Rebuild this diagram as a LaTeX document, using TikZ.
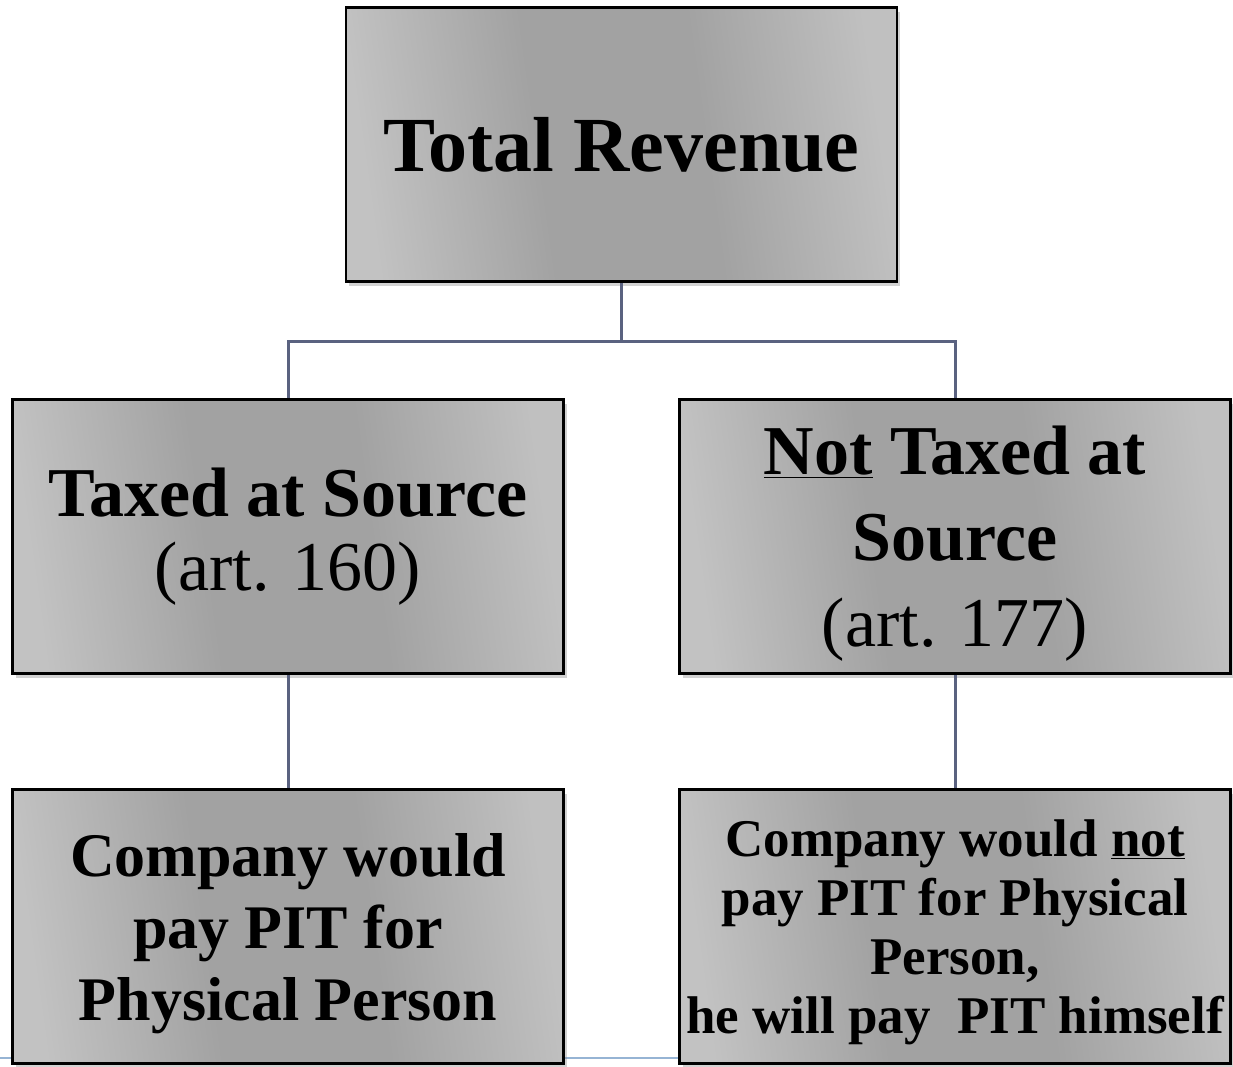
\documentclass[tikz,border=0pt]{standalone}
\usepackage{fontspec}
\setmainfont{Liberation Serif}
\usetikzlibrary{shadows,calc}
\definecolor{conncol}{RGB}{90,98,128}
\definecolor{footcol}{RGB}{150,180,212}
\definecolor{glight}{RGB}{194,194,194}
\definecolor{gdark}{RGB}{162,162,162}
\definecolor{gright}{RGB}{192,192,192}
\pgfdeclarehorizontalshading{boxshade}{100bp}{color(0bp)=(glight); color(25bp)=(glight); color(42bp)=(gdark); color(58bp)=(gdark); color(75bp)=(gright); color(100bp)=(gright)}
\tikzset{
  box/.style={draw=black, line width=2.5pt, rectangle, inner sep=0pt,
    shading=boxshade, shading angle=8,
    drop shadow={opacity=0.35, shadow xshift=3pt, shadow yshift=-4pt},
    minimum width=551pt, minimum height=274pt, align=center, text=black},
  conn/.style={draw=conncol, line width=3pt},
}
\begin{document}
\begin{tikzpicture}[x=1pt,y=-1pt]
\useasboundingbox (0,0) rectangle (1233,1066);
\fill[white] (0,0) rectangle (1233,1066);
\draw[footcol, line width=1.5pt] (0,1058) -- (680,1058);
\node[box, font=\fontsize{78}{90}\selectfont\bfseries] (top) at (621.5,144.5) {Total Revenue};
\node[box, font=\fontsize{70}{74}\selectfont] (midL) at (288,536.5) {\textbf{Taxed at Source}\\(art. 160)};
\node[box, text depth=0pt, font=\fontsize{70}{86}\selectfont] (midR) at (955,536.5) {\textbf{\underline{Not} Taxed at}\\\textbf{Source}\\(art. 177)};
\node[box, text depth=0pt, font=\fontsize{62}{72}\selectfont\bfseries] (botL) at (288,926.5) {Company would\\pay PIT for\\Physical Person};
\node[box, text depth=0pt, font=\fontsize{53}{59}\selectfont\bfseries] (botR) at (955,926.5) {Company would \underline{not}\\pay PIT for Physical\\Person,\\he will pay\ \ PIT himself};
\draw[conn] (top.south) -- ++(0,59) coordinate (j) -| (midL.north);
\draw[conn] (j) -| (midR.north);
\draw[conn] (midL.south) -- (botL.north);
\draw[conn] (midR.south) -- (botR.north);
\end{tikzpicture}
\end{document}
